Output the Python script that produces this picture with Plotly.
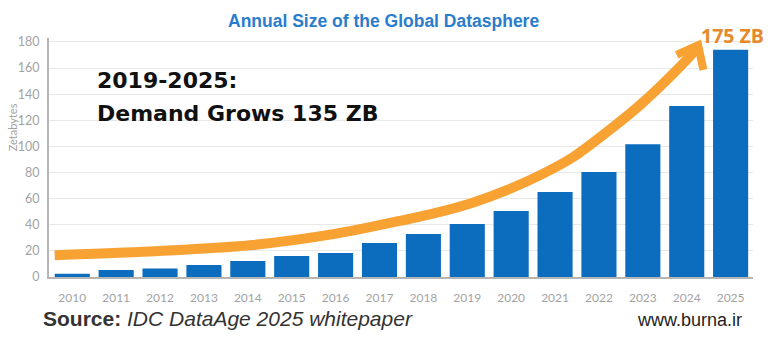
import plotly.graph_objects as go

# Data
years = [2010, 2011, 2012, 2013, 2014, 2015, 2016, 2017,
         2018, 2019, 2020, 2021, 2022, 2023, 2024, 2025]
zettabytes = [2.5, 5.4, 6.5, 9.2, 12.3, 16, 18.3, 26,
              33, 40.6, 50.5, 65, 80.4, 101.6, 131, 174]
y_ticks = [0, 20, 40, 60, 80, 100, 120, 140, 160, 180]

# Decorative growth arrow (path, in data units)
arrow_x = [2009.60, 2011.77, 2014.05, 2015.98, 2017.47, 2018.38, 2019.14,
           2019.90, 2020.66, 2021.42, 2022.18, 2022.94, 2023.70, 2024.15, 2024.26]
arrow_y = [16.7, 19.5, 24.3, 33, 43, 49.9, 57.1,
           66.5, 78, 92, 111, 131.8, 156, 172, 177]
head_x = [2023.77, 2024.26, 2024.38]
head_y = [170, 177.5, 158.6]

BLUE = "#0c6cbd"
ORANGE = "#f7a233"
GRID = "#e8e8e8"
AXIS = "#b5b5b5"
TICK = "#a3a3a3"

fig = go.Figure()
fig.add_trace(go.Bar(x=years, y=zettabytes, marker_color=BLUE,
                     marker_line_width=0, width=0.8, showlegend=False))
fig.add_trace(go.Scatter(x=arrow_x, y=arrow_y, mode="lines",
                         line=dict(color=ORANGE, width=10, shape="spline", smoothing=0.8),
                         showlegend=False, hoverinfo="skip"))
fig.add_trace(go.Scatter(x=head_x, y=head_y, mode="lines",
                         line=dict(color=ORANGE, width=8),
                         showlegend=False, hoverinfo="skip"))

fig.update_layout(
    width=768, height=345,
    margin=dict(l=49, r=15, t=38, b=68),
    paper_bgcolor="white", plot_bgcolor="white",
    bargap=0.2,
    xaxis=dict(range=[2009.47, 2025.51], tickmode="array", tickvals=years,
               ticktext=[str(y) for y in years],
               showgrid=False, showline=True, linecolor=AXIS, linewidth=2,
               ticks="", ticklabelstandoff=9,
               tickfont=dict(family="Lato", size=12, color=TICK),
               zeroline=False, fixedrange=True),
    yaxis=dict(range=[0, 183], tickmode="array", tickvals=y_ticks,
               showgrid=True, gridcolor=GRID, gridwidth=1,
               showline=True, linecolor=AXIS, linewidth=2,
               ticks="", ticklabelstandoff=5,
               tickfont=dict(family="Lato", size=12.5, color=TICK),
               zeroline=False, fixedrange=True),
    annotations=[
        dict(text="<b>Annual Size of the Global Datasphere</b>",
             xref="paper", yref="paper", x=(383 - 49) / 704, y=1 + (38 - 21) / 239,
             xanchor="center", yanchor="middle", showarrow=False,
             font=dict(family="Liberation Sans", size=17.5, color="#2a7ccc")),
        dict(text="Zetabytes", xref="paper", yref="paper",
             x=-(49 - 12) / 704, y=(276.7 - 127) / 239, textangle=-90,
             xanchor="center", yanchor="middle", showarrow=False,
             font=dict(family="Lato", size=11, color=TICK)),
        dict(text="<b>2019-2025:</b>", xref="paper", yref="paper",
             x=(95 - 49) / 704, y=(276.7 - 80) / 239,
             xanchor="left", yanchor="middle", showarrow=False,
             font=dict(family="DejaVu Sans", size=22, color="#111111")),
        dict(text="<b>Demand Grows 135 ZB</b>", xref="paper", yref="paper",
             x=(95 - 49) / 704, y=(276.7 - 113) / 239,
             xanchor="left", yanchor="middle", showarrow=False,
             font=dict(family="DejaVu Sans", size=22, color="#111111")),
        dict(text="<b>175 ZB</b>", xref="paper", yref="paper",
             x=(732 - 49) / 704, y=(276.7 - 35) / 239,
             xanchor="center", yanchor="middle", showarrow=False,
             font=dict(family="Open Sans", size=19.5, color="#e5892b")),
        dict(text="<b>Source:</b> <i>IDC DataAge 2025 whitepaper</i>",
             xref="paper", yref="paper",
             x=(41 - 49) / 704, y=-(318 - 276.7) / 239,
             xanchor="left", yanchor="middle", showarrow=False,
             font=dict(family="Liberation Sans", size=21, color="#333333")),
        dict(text="www.burna.ir", xref="paper", yref="paper",
             x=(744 - 49) / 704, y=-(320 - 276.7) / 239,
             xanchor="right", yanchor="middle", showarrow=False,
             font=dict(family="Liberation Sans", size=18, color="#222222")),
    ],
)

fig.write_html("out.html")
